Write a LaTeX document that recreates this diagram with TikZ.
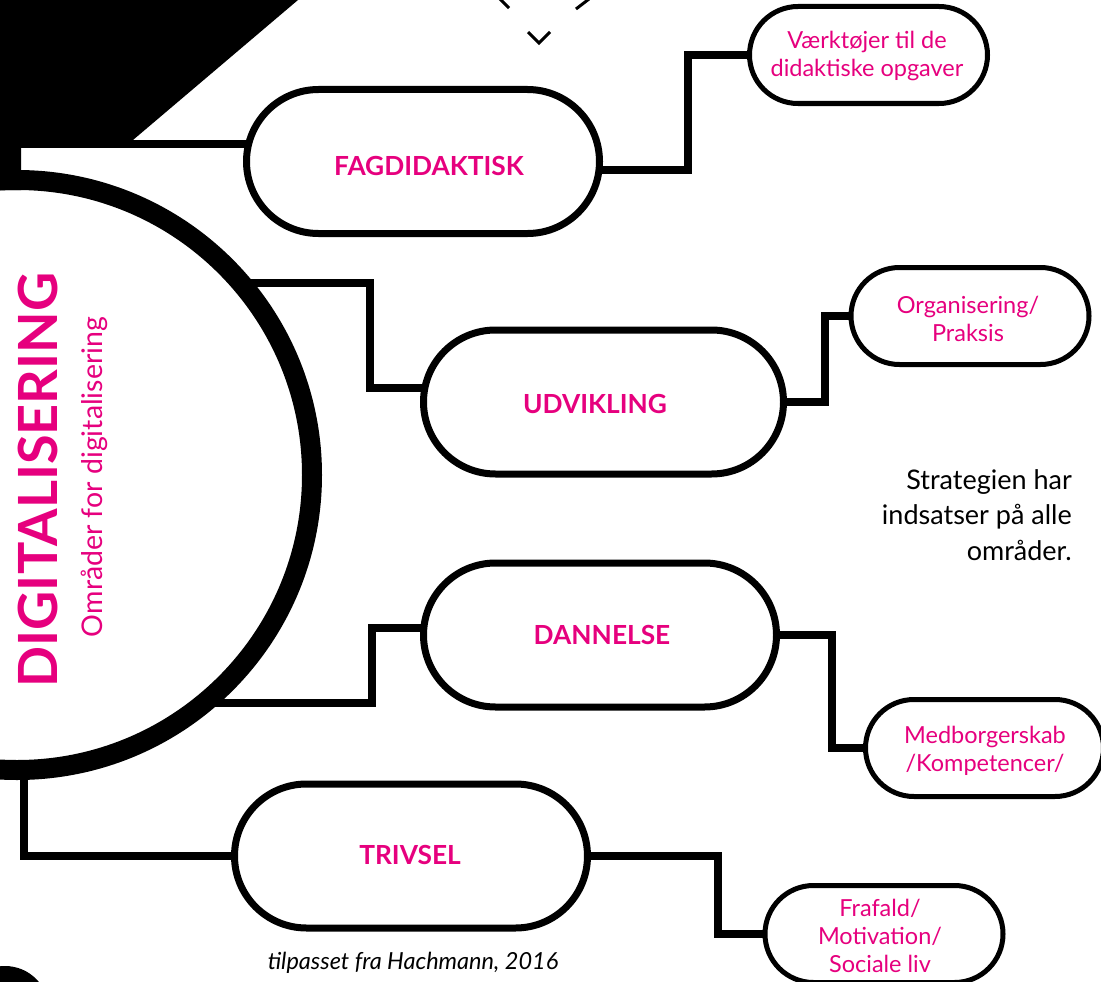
\documentclass[tikz,border=0pt]{standalone}
\usepackage{fontspec}
\setmainfont{Lato}
\usetikzlibrary{shapes.misc,calc,backgrounds}
\definecolor{hotpink}{HTML}{E6007E}
\tikzset{
  pill/.style={rounded rectangle, draw=black, line width=7pt, fill=white, inner sep=0pt,
    minimum width=353pt, minimum height=144pt},
  spill/.style={rounded rectangle, draw=black, line width=5pt, fill=white, inner sep=0pt,
    minimum width=238pt, minimum height=97pt},
  conn/.style={line width=7.5pt, line join=miter},
  mainlbl/.style={text=hotpink, font=\fontsize{26.3}{30}\selectfont\bfseries, inner sep=0pt},
  smalllbl/.style={text=hotpink, font=\fontsize{23.5}{28}\selectfont, align=center, inner sep=0pt},
  chev/.style={line width=3pt},
}
\begin{document}
\begin{tikzpicture}[x=1pt,y=-1pt]
\useasboundingbox (0,0) rectangle (1101,982);
% black corner shape
\fill[black] (0,0) -- (298,0) -- (133,140) -- (21,140) -- (21,190) -- (0,190) -- cycle;
% bottom-left black disc
\fill[black] (5,1010) circle[radius=44];
% partial diamond chevrons at the top
\draw[chev] (500,-1) -- (509,8);
\draw[chev] (576,9) -- (589,-1);
\draw[chev] (528,32) -- (539,43) -- (550,32);
% big ring
\node[circle, draw=black, line width=20pt, minimum size=590pt, inner sep=0pt] (ring) at (17,475) {};
\coordinate (r0) at (10,185);
\coordinate (r1) at (241,283);
\coordinate (r2) at (204,703);
\coordinate (r3) at (24,765);
% main pills
\node[pill] (fag) at (423,161.5) {};
\node[pill, minimum width=360pt] (udv) at (603.5,402) {};
\node[pill] (dan) at (600,635) {};
\node[pill] (triv) at (411,856) {};
% small pills
\node[spill] (vaerk) at (868.5,55) {};
\node[spill] (org) at (970,316) {};
\node[spill] (med) at (984.5,748) {};
\node[spill] (fra) at (884,934) {};
% connectors
\begin{scope}[on background layer]
\draw[conn] (r0) |- ([yshift=17.5pt]fag.center);
\draw[conn] ([yshift=-8.5pt]fag.center) -| ([xshift=-180.5pt]vaerk.center) -- (vaerk.center);
\draw[conn] (r1) -| ([xshift=-233.5pt,yshift=14pt]udv.center) -- ([yshift=14pt]udv.center);
\draw[conn] (udv.center) -| ([xshift=-145pt]org.center) -- (org.center);
\draw[conn] (r2) -| ([xshift=-228pt,yshift=7pt]dan.center) -- ([yshift=7pt]dan.center);
\draw[conn] (dan.center) -| ([xshift=-152.5pt]med.center) -- (med.center);
\draw[conn] (r3) |- (triv.center);
\draw[conn] (triv.center) -| ([xshift=-166pt]fra.center) -- (fra.center);
\end{scope}
% labels
\node[mainlbl] (fagT) at (429,166) {FAGDIDAKTISK};
\node[mainlbl] (udvT) at (595,404) {UDVIKLING};
\node[mainlbl] (danT) at (602,635) {DANNELSE};
\node[mainlbl] (trivT) at (410,855) {TRIVSEL};
\node[smalllbl] (vaerkT) at (867,56) {Værktøjer til de\\didaktiske opgaver};
\node[smalllbl] (orgT) at (968,319) {Organisering/\\Praksis};
\node[smalllbl] (medT) at (985,751) {Medborgerskab\\/Kompetencer/};
\node[smalllbl] (fraT) at (880,936) {Frafald/\\Motivation/\\Sociale liv};
\node[text=hotpink, font=\fontsize{54}{60}\selectfont\bfseries, rotate=90, inner sep=0pt] (digi) at (38,480) {DIGITALISERING};
\node[text=hotpink, font=\fontsize{28.5}{32}\selectfont, rotate=90, inner sep=0pt] (omr) at (94,477) {Områder for digitalisering};
\node[font=\fontsize{27}{35.5}\selectfont, align=right, anchor=east, inner sep=0pt] (strat) at (1072,515) {Strategien har\\indsatser på alle\\områder.};
\node[font=\fontsize{23.5}{27}\selectfont\itshape, inner sep=0pt] (cap) at (413,963) {tilpasset fra Hachmann, 2016};
\end{tikzpicture}
\end{document}
